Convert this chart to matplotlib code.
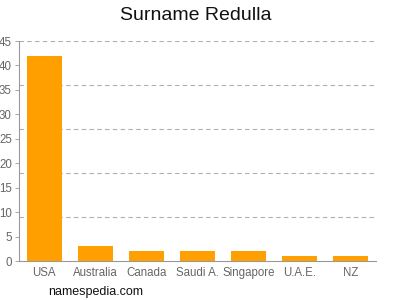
import matplotlib
matplotlib.use("Agg")
import matplotlib.pyplot as plt
import numpy as np

categories = ["USA", "Australia", "Canada", "Saudi A.", "Singapore", "U.A.E.", "NZ"]
values = [42, 3, 2, 2, 2, 1, 1]
yticks = [0, 5, 10, 15, 20, 25, 30, 35, 40, 45]
grid_levels = [9, 18, 27, 36, 45]

plt.rcParams['font.family'] = ['Liberation Sans', 'DejaVu Sans']
fig = plt.figure(figsize=(4, 3), dpi=100)
ax = fig.add_axes([0.047, 0.13, 0.8925, 0.7333])
x = np.arange(len(categories))
ax.bar(x, values, width=0.686, color="#FFA000", zorder=2)
ax.set_xlim(-0.5, len(categories) - 0.5)
ax.set_ylim(0, 45)
for g in grid_levels:
    ax.axhline(g, color="#b0b0b0", lw=0.8, ls=(0, (4, 3)), zorder=1)
ax.set_yticks(yticks)
ax.set_yticklabels([str(t) for t in yticks])
ax.set_xticks(x)
ax.set_xticklabels(categories)
ax.tick_params(axis='both', colors="#999999", labelcolor="#666666", labelsize=8.3, length=3, width=0.6)
ax.tick_params(axis='x', length=0, pad=4)
ax.tick_params(axis='y', pad=2)
for s in ["top", "right"]:
    ax.spines[s].set_visible(False)
for s in ["left", "bottom"]:
    ax.spines[s].set_color("#999999")
    ax.spines[s].set_linewidth(0.8)
fig.text(0.49, 0.95, "Surname Redulla", ha="center", va="center", fontsize=14, color="#111111")
fig.text(0.12, 0.027, "namespedia.com", ha="left", va="center", fontsize=9, color="#111111")
fig.savefig("out.png", dpi=100)
